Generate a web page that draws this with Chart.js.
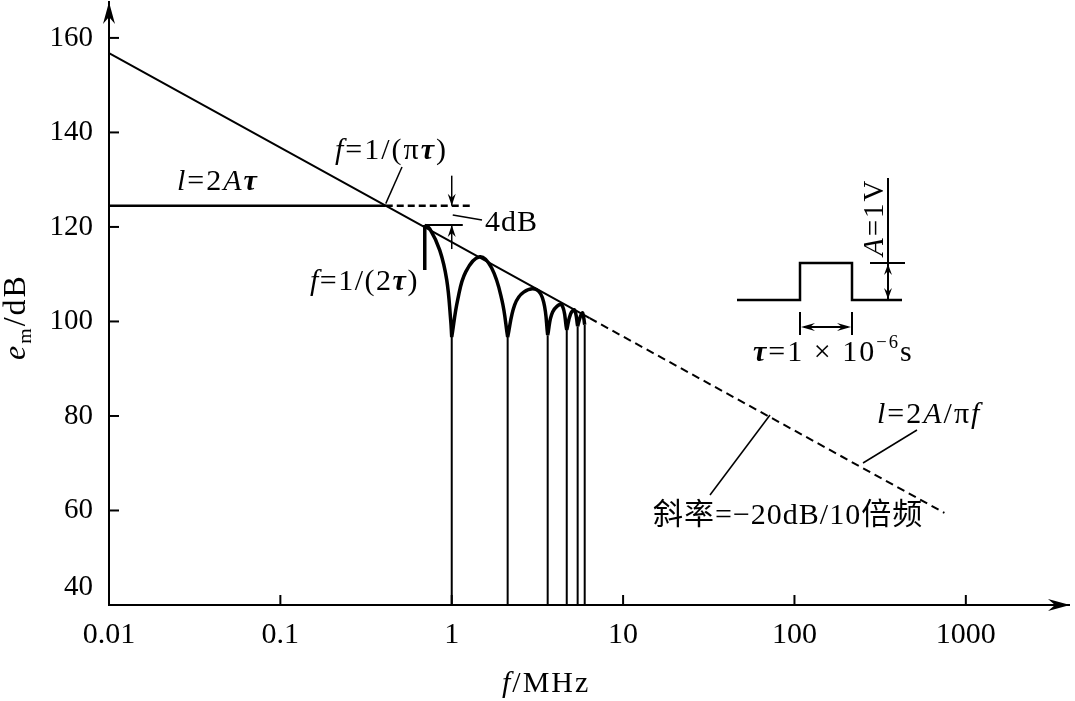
<!DOCTYPE html>
<html>
<head>
<meta charset="utf-8">
<script src="https://cdn.jsdelivr.net/npm/chart.js@4/dist/chart.umd.min.js"></script>
<style>
html, body { margin: 0; padding: 0; background: #fff; }
#wrap { width: 1075px; height: 701px; }
</style>
</head>
<body>
<div id="wrap"><canvas id="c"></canvas></div>
<script>
// axis ticks
const xTicks = [0.01, 0.1, 1, 10, 100, 1000];
const xTickLabels = ['0.01', '0.1', '1', '10', '100', '1000'];
const yTicks = [40, 60, 80, 100, 120, 140, 160];

// envelope l=2A/πf : solid up to ~6 MHz, dashed after
const envF = [0.01, 6.38, 750];
const envDb = [156.8, 100.7, 59.5];

// flat part l=2Aτ : solid up to the corner, dashed after
const flatF = [0.01, 0.412, 1.31];
const flatDb = [124.5, 124.5, 124.5];

// spectrum lobes (null = break between lobes)
const lobeF = [0.696, 0.745, 0.851, 0.935, 0.986, 1.0, null,
               1.0, 1.084, 1.207, 1.456, 1.71, 1.96, 2.12, null,
               2.12, 2.33, 2.63, 3.13, 3.44, 3.63, null,
               3.63, 3.88, 4.38, 4.69, null,
               4.69, 4.94, 5.21, 5.43, null,
               5.43, 5.65, 5.81, 5.97];
const lobeDb = [120.4, 119.6, 115.1, 108.8, 100.3, 96.7, null,
                96.7, 104.6, 110.5, 113.7, 111.3, 104.6, 96.7, null,
                96.7, 103.5, 106.2, 106.7, 104.1, 97.1, null,
                97.1, 102.0, 103.5, 98.2, null,
                98.2, 101.6, 102.4, 99.0, null,
                99.0, 101.2, 101.8, 99.3];

// spectral nulls, drawn down to the axis
const nullF = [1.0, 2.12, 3.63, 4.69, 5.43, 5.97];
const nullDb = [96.7, 96.7, 97.1, 98.2, 99.0, 99.3];

// first edge at f=1/(2τ) and the 4dB reference level
const barF = [0.696, 0.696];
const barDb = [120.4, 110.9];
const refF = [0.696, 1.16];
const refDb = [120.4, 120.4];

const yMin = 40, yMax = 167.6;
const xMin = 0.01, xMax = 4000;

function pts(fs, ds) {
  return fs.map((f, i) => f === null ? {x: NaN, y: null} : {x: f, y: ds[i]});
}

let nullPts = [];
nullF.forEach((f, i) => {
  nullPts.push({x: f, y: nullDb[i]}, {x: f, y: yMin}, {x: NaN, y: null});
});

const SERIF = '"Liberation Serif", "Noto Sans CJK SC", serif';

function rich(ctx, parts, x, y, size, sp) {
  let cx = x;
  ctx.letterSpacing = (sp || 0) + 'px';
  parts.forEach(p => {
    let t = p[0], st = p[1] || '';
    let sz = size, dy = 0, style = '';
    if (st.includes('i')) style += 'italic ';
    if (st.includes('b')) style += 'bold ';
    if (st.includes('^')) { sz = size * 0.62; dy = -size * 0.42; }
    if (st.includes('_')) { sz = size * 0.62; dy = size * 0.2; }
    ctx.font = style + sz + 'px ' + SERIF;
    ctx.fillText(t, cx, y + dy);
    cx += ctx.measureText(t).width;
  });
  ctx.letterSpacing = '0px';
}

function line(ctx, x1, y1, x2, y2) {
  ctx.beginPath(); ctx.moveTo(x1, y1); ctx.lineTo(x2, y2); ctx.stroke();
}

function head(ctx, x, y, dir, len, w, notch) {
  // dir: 'up','down','left','right'
  const d = {up: [0, 1], down: [0, -1], left: [1, 0], right: [-1, 0]}[dir];
  const px = -d[1], py = d[0];
  ctx.beginPath();
  ctx.moveTo(x, y);
  ctx.lineTo(x + d[0] * len + px * w, y + d[1] * len + py * w);
  ctx.lineTo(x + d[0] * notch, y + d[1] * notch);
  ctx.lineTo(x + d[0] * len - px * w, y + d[1] * len - py * w);
  ctx.closePath();
  ctx.fill();
}

const deco = {
  id: 'deco',
  afterDraw(chart) {
    const {ctx, chartArea: a, scales: {x, y}} = chart;
    const X = v => x.getPixelForValue(v), Y = v => y.getPixelForValue(v);
    ctx.save();
    ctx.strokeStyle = '#000'; ctx.fillStyle = '#000';
    ctx.lineWidth = 2;

    // inward tick marks
    yTicks.forEach(v => { if (v !== yMin) line(ctx, a.left, Y(v), a.left + 10, Y(v)); });
    xTicks.forEach(v => { if (v !== xMin) line(ctx, X(v), a.bottom, X(v), a.bottom - 10); });

    // axis arrows
    head(ctx, a.right + 1, a.bottom, 'right', 22, 6, 15);
    head(ctx, a.left, a.top, 'up', 22, 6, 15);

    // the "40" label sits above the x axis
    ctx.textAlign = 'right'; ctx.textBaseline = 'middle';
    ctx.font = '29px ' + SERIF;
    ctx.fillText('40', a.left - 16, Y(yMin) - 18);

    ctx.textAlign = 'left'; ctx.textBaseline = 'alphabetic';
    ctx.lineWidth = 1.5;

    // l=2Aτ
    rich(ctx, [['l', 'i'], ['=2'], ['A', 'i'], ['τ', 'bi']], 177, 190, 30, 2);

    // f=1/(πτ) with leader to the corner
    rich(ctx, [['f', 'i'], ['=1/(π'], ['τ', 'bi'], [')']], 335, 159, 30, 2);
    line(ctx, 402, 167, X(flatF[1]), Y(flatDb[1]) - 2);

    // 4dB marker
    const xm = X(1.0);
    line(ctx, xm, Y(flatDb[1]) - 30, xm, Y(flatDb[1]));
    head(ctx, xm, Y(flatDb[1]), 'down', 12, 4, 8);
    line(ctx, xm, Y(refDb[0]) + 24, xm, Y(refDb[0]));
    head(ctx, xm, Y(refDb[0]), 'up', 12, 4, 8);
    line(ctx, xm + 1, 215, 482, 220);
    rich(ctx, [['4dB']], 485, 231, 30, 1);

    // f=1/(2τ)
    rich(ctx, [['f', 'i'], ['=1/(2'], ['τ', 'bi'], [')']], 310, 290, 30, 1.5);

    // l=2A/πf
    rich(ctx, [['l', 'i'], ['=2'], ['A', 'i'], ['/π'], ['f', 'i']], 877, 423, 30, 2);
    line(ctx, 917, 430, 863, 463);

    // slope label
    rich(ctx, [['斜率=−20dB/10倍频']], 653, 524, 30, 1);
    line(ctx, 710, 495, 770, 415);

    // inset: rectangular pulse
    ctx.lineWidth = 2.5;
    ctx.beginPath();
    ctx.moveTo(737, 300); ctx.lineTo(800, 300); ctx.lineTo(800, 263);
    ctx.lineTo(852, 263); ctx.lineTo(852, 300); ctx.lineTo(902, 300);
    ctx.stroke();
    ctx.lineWidth = 2;
    line(ctx, 888, 178, 888, 300);
    line(ctx, 870, 263, 905, 263);
    line(ctx, 888, 268, 888, 296);
    head(ctx, 888, 264, 'up', 11, 4, 7);
    head(ctx, 888, 299, 'down', 11, 4, 7);
    line(ctx, 800, 312, 800, 335);
    line(ctx, 852, 312, 852, 335);
    line(ctx, 804, 327, 848, 327);
    head(ctx, 801, 327, 'left', 14, 4, 9);
    head(ctx, 851, 327, 'right', 14, 4, 9);
    rich(ctx, [['τ', 'bi'], ['=1 × 10'], ['−6', '^'], ['s']], 753, 361, 30, 2);

    // A=1V (rotated)
    ctx.save();
    ctx.translate(883, 256); ctx.rotate(-Math.PI / 2);
    rich(ctx, [['A', 'i'], ['=1V']], 0, 0, 29, 2);
    ctx.restore();

    // axis titles
    rich(ctx, [['f', 'i'], ['/MHz']], 502, 692, 30, 2);
    ctx.save();
    ctx.translate(25, 360); ctx.rotate(-Math.PI / 2);
    rich(ctx, [['e', 'i'], ['m', '_'], ['/dB']], 0, 0, 32, 2);
    ctx.restore();

    ctx.restore();
  }
};

new Chart(document.getElementById('c'), {
  type: 'line',
  data: {
    datasets: [
      {
        data: pts(envF, envDb), borderColor: '#000', borderWidth: 2,
        segment: { borderDash: c => c.p0DataIndex >= 1 ? [8, 5] : undefined }
      },
      {
        data: pts(flatF, flatDb), borderColor: '#000', borderWidth: 2.5,
        segment: { borderDash: c => c.p0DataIndex >= 1 ? [7, 4] : undefined }
      },
      { data: pts(lobeF, lobeDb), borderColor: '#000', borderWidth: 3.5, tension: 0.4, spanGaps: false },
      { data: nullPts, borderColor: '#000', borderWidth: 2, spanGaps: false },
      { data: pts(barF, barDb), borderColor: '#000', borderWidth: 3.5 },
      { data: pts(refF, refDb), borderColor: '#000', borderWidth: 2 }
    ]
  },
  options: {
    responsive: true,
    maintainAspectRatio: false,
    animation: false,
    layout: { padding: { top: 2, right: 6, left: 0, bottom: 0 } },
    elements: { point: { radius: 0, hoverRadius: 0 } },
    plugins: { legend: { display: false }, tooltip: { enabled: false } },
    scales: {
      x: {
        type: 'logarithmic', min: xMin, max: xMax,
        afterBuildTicks: s => { s.ticks = xTicks.map(v => ({value: v})); },
        afterFit: s => { s.height = 96; s.paddingLeft = 0; s.paddingRight = 0; },
        grid: { display: true, drawOnChartArea: false, drawTicks: false },
        border: { display: true, color: '#000', width: 2 },
        ticks: {
          autoSkip: false, maxRotation: 0, padding: 12, color: '#000',
          font: { family: SERIF, size: 30 },
          callback: (v, i) => xTickLabels[i]
        }
      },
      y: {
        type: 'linear', min: yMin, max: yMax,
        afterBuildTicks: s => { s.ticks = yTicks.map(v => ({value: v})); },
        afterFit: s => { s.width = 109; s.paddingTop = 0; s.paddingBottom = 0; },
        grid: { display: true, drawOnChartArea: false, drawTicks: false },
        border: { display: true, color: '#000', width: 2 },
        ticks: {
          padding: 16, color: '#000',
          font: { family: SERIF, size: 29 },
          callback: v => v === yMin ? '' : String(v)
        }
      }
    }
  },
  plugins: [deco]
});
</script>
</body>
</html>
